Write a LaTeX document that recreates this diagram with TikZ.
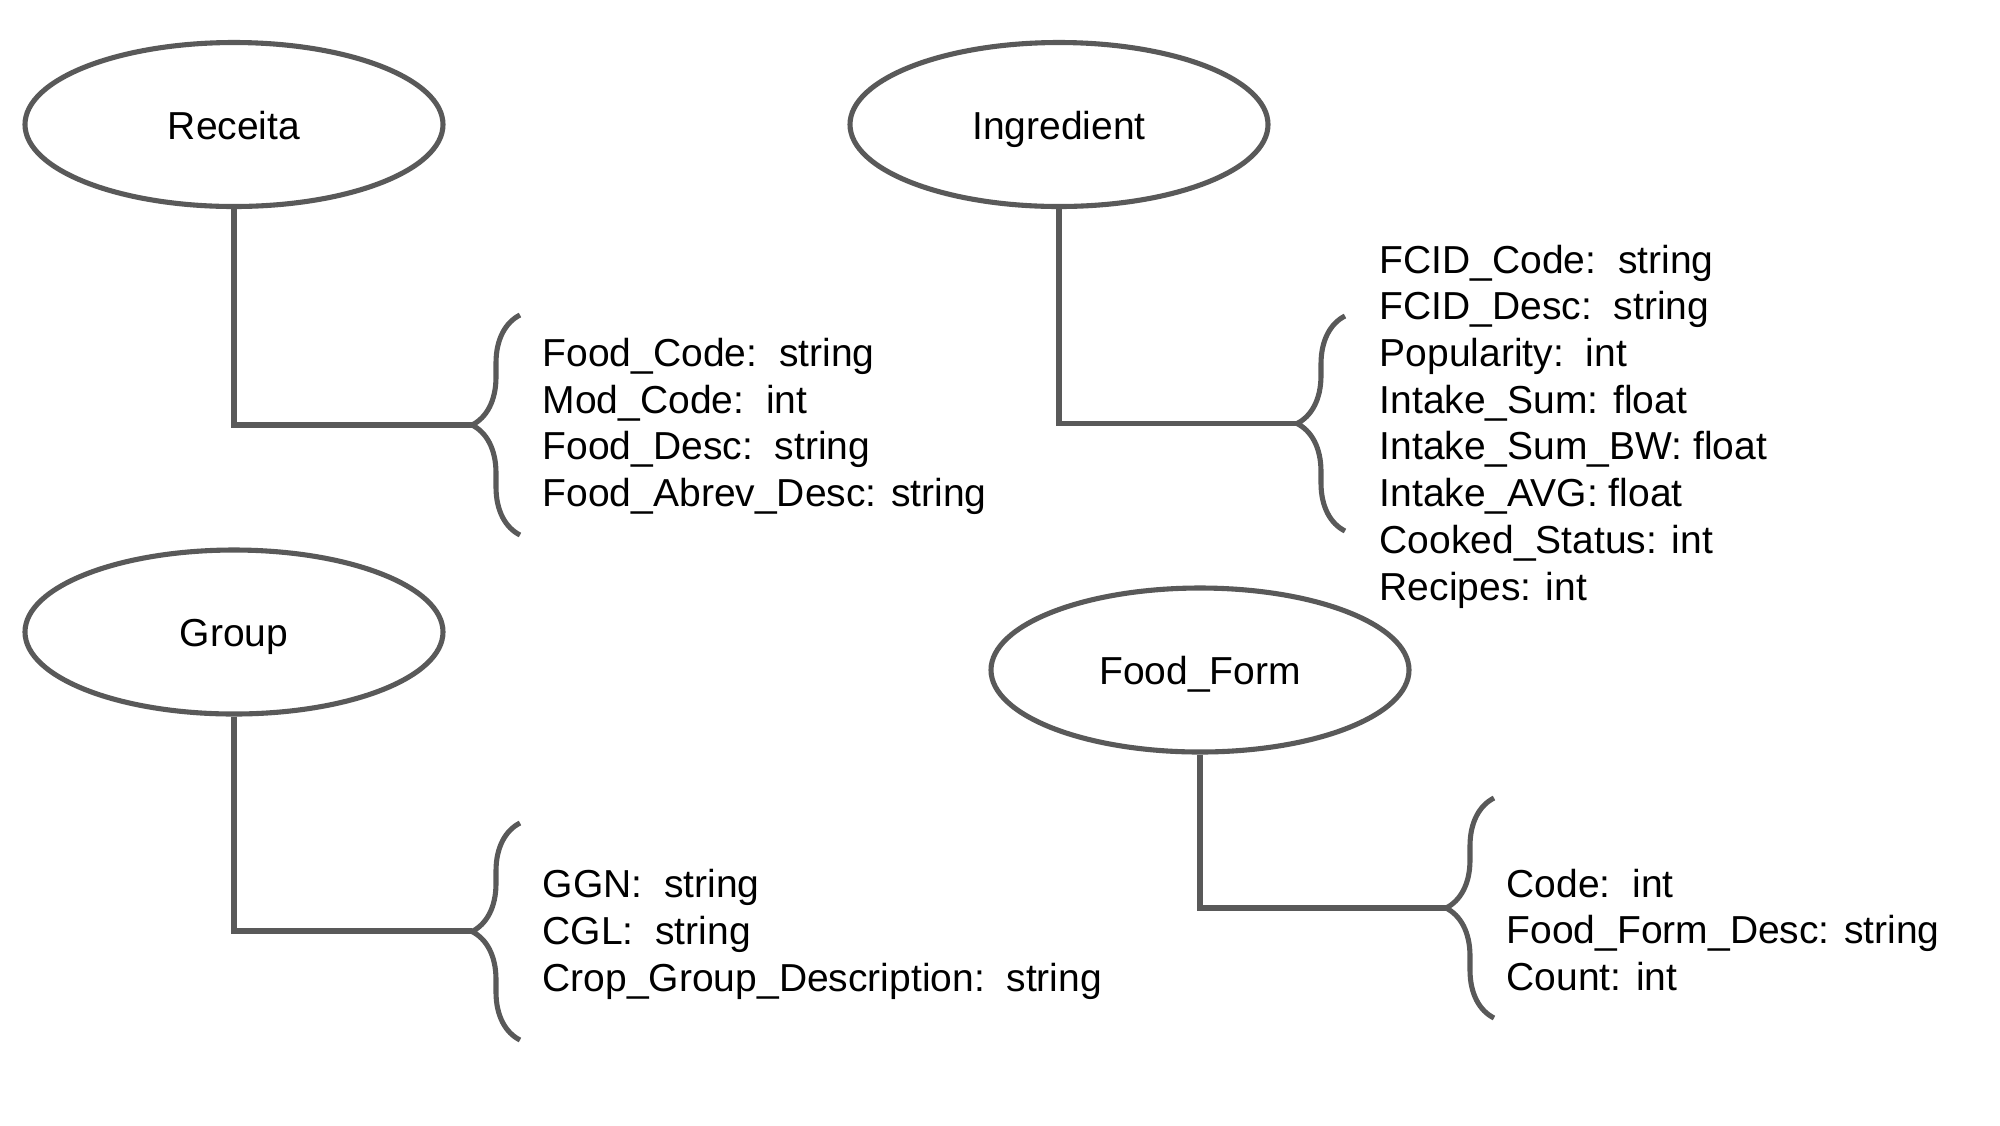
\documentclass[tikz,border=0pt]{standalone}
\usepackage{fontspec}
\setmainfont{Liberation Sans}
\usepackage{tikz}
\usetikzlibrary{shapes.geometric,decorations.pathreplacing,positioning}

\definecolor{linegray}{HTML}{595959}
\newcommand{\twogap}{\ \ }

\tikzset{
    entity/.style={ellipse, draw=linegray, line width=1.45pt, minimum width=4.18cm, minimum height=1.64cm, inner sep=0pt, text height=0.85em, text depth=0pt, font=\fontsize{11.1}{13.3}\selectfont},
    link/.style={draw=linegray, line width=1.45pt},
    attrbrace/.style={draw=linegray, line width=1.45pt, decorate, decoration={brace, amplitude=0.48cm}},
    attrs/.style={anchor=west, align=left, inner sep=0pt, font=\fontsize{11.1}{13.3}\selectfont}
}

\begin{document}
\begin{tikzpicture}
    \useasboundingbox (0,0) rectangle (20,-11.25);

    % Receita
    \node[entity] (rec) at (2.34,-1.245) {Receita};
    \coordinate (rectip) at (4.72,-4.25);
    \draw[attrbrace] (5.20,-5.35) -- (5.20,-3.15);
    \draw[link] (rec.south) |- (rectip);
    \node[attrs] (recattr) at (5.42,-4.265) {Food\_Code:\twogap string\\Mod\_Code:\twogap int\\Food\_Desc:\twogap string\\Food\_Abrev\_Desc: string};

    % Ingredient
    \node[entity] (ing) at (10.59,-1.245) {Ingredient};
    \coordinate (ingtip) at (12.97,-4.235);
    \draw[attrbrace] (13.45,-5.31) -- (13.45,-3.16);
    \draw[link] (ing.south) |- (ingtip);
    \node[attrs] (ingattr) at (13.79,-4.265) {FCID\_Code:\twogap string\\FCID\_Desc:\twogap string\\Popularity:\twogap int\\Intake\_Sum: float\\Intake\_Sum\_BW: float\\Intake\_AVG: float\\Cooked\_Status: int\\Recipes: int};

    % Group
    \node[entity] (grp) at (2.34,-6.32) {Group};
    \coordinate (grptip) at (4.72,-9.31);
    \draw[attrbrace] (5.20,-10.40) -- (5.20,-8.23);
    \draw[link] (grp.south) |- (grptip);
    \node[attrs] (grpattr) at (5.42,-9.345) {GGN:\twogap string\\CGL:\twogap string\\Crop\_Group\_Description:\twogap string};

    % Food_Form
    \node[entity] (form) at (12.00,-6.70) {Food\_Form};
    \coordinate (formtip) at (14.46,-9.08);
    \draw[attrbrace] (14.94,-10.18) -- (14.94,-7.98);
    \draw[link] (form.south) |- (formtip);
    \node[attrs] (formattr) at (15.06,-9.30) {Code:\twogap int\\Food\_Form\_Desc: string\\Count: int};
\end{tikzpicture}
\end{document}
